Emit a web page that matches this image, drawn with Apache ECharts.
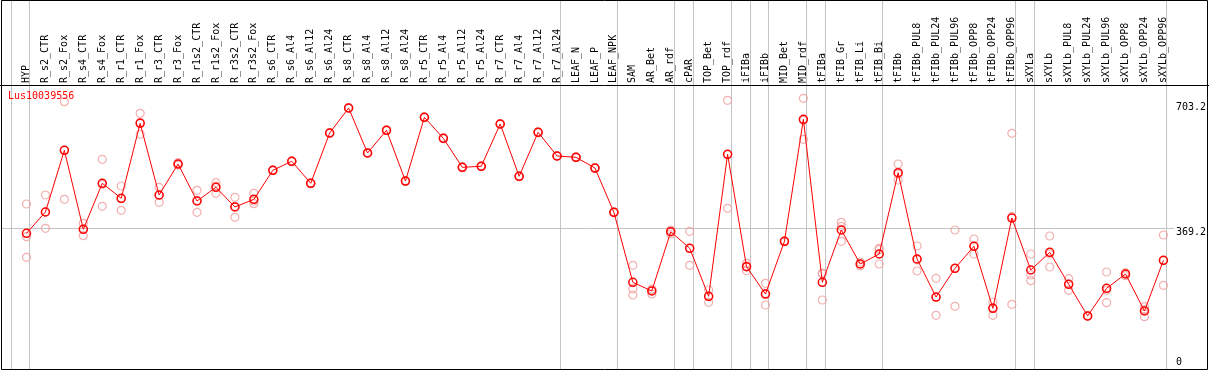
<!DOCTYPE html>
<html>
<head>
<meta charset="utf-8">
<script src="https://cdn.jsdelivr.net/npm/echarts@6/dist/echarts.min.js"></script>
<style>html,body{margin:0;padding:0;background:#fff;}#c{width:1209px;height:370px;}</style>
</head>
<body>
<div id="c"></div>
<script>
const geneName = 'Lus10039556';
const categories = ['HYP','R_s2_CTR','R_s2_Fox','R_s4_CTR','R_s4_Fox','R_r1_CTR','R_r1_Fox','R_r3_CTR','R_r3_Fox','R_r1s2_CTR','R_r1s2_Fox','R_r3s2_CTR','R_r3s2_Fox','R_s6_CTR','R_s6_Al4','R_s6_Al12','R_s6_Al24','R_s8_CTR','R_s8_Al4','R_s8_Al12','R_s8_Al24','R_r5_CTR','R_r5_Al4','R_r5_Al12','R_r5_Al24','R_r7_CTR','R_r7_Al4','R_r7_Al12','R_r7_Al24','LEAF_N','LEAF_P','LEAF_NPK','SAM','AR_Bet','AR_rdf','cPAR','TOP_Bet','TOP_rdf','iFIBa','iFIBb','MID_Bet','MID_rdf','tFIBa','tFIB_Gr','tFIB_Li','tFIB_Bi','tFIBb','tFIBb_PUL8','tFIBb_PUL24','tFIBb_PUL96','tFIBb_OPP8','tFIBb_OPP24','tFIBb_OPP96','sXYLa','sXYLb','sXYLb_PUL8','sXYLb_PUL24','sXYLb_PUL96','sXYLb_OPP8','sXYLb_OPP24','sXYLb_OPP96'];
const meanValues = [355.9,412.6,576.9,366.6,489.0,449.1,648.7,457.9,540.4,441.9,478.4,425.9,446.4,523.6,547.6,489.0,622.9,689.5,569.7,630.1,495.1,664.7,608.8,531.6,534.3,646.9,507.6,624.8,561.7,558.2,529.7,411.8,225.5,202.3,360.2,316.0,188.2,566.2,267.0,194.3,334.6,659.4,225.5,364.7,274.2,300.8,517.2,287.5,186.3,262.7,321.3,156.3,396.6,258.2,305.3,220.1,135.8,209.5,247.6,149.1,284.0];
const rep1 = [433.9,457.9,706.2,382.5,552.9,481.8,675.3,478.4,543.8,470.4,490.6,451.7,462.4,524.6,548.6,490.0,623.9,690.5,570.7,631.1,496.1,665.7,609.8,532.6,535.3,647.9,508.6,625.8,562.7,559.2,530.7,412.8,270.7,207.6,364.7,361.2,205.0,709.9,276.0,222.8,335.6,715.3,249.4,385.2,279.5,316.0,540.4,322.1,236.1,364.7,340.7,173.0,622.1,300.8,348.7,235.1,136.8,252.9,243.0,160.5,351.4];
const rep2 = [346.9,369.2,446.4,349.5,427.8,417.1,619.4,438.4,537.7,411.8,462.4,398.5,434.7,522.6,546.6,488.0,621.9,688.5,568.7,629.1,494.1,663.7,607.8,530.6,533.3,645.9,506.6,623.8,560.7,557.2,528.7,410.8,208.4,194.3,354.0,270.7,172.2,422.5,256.3,165.0,333.6,606.1,178.4,334.6,268.9,274.2,497.8,255.6,137.6,161.6,300.8,137.6,166.9,229.7,266.2,204.2,134.8,171.2,251.0,133.9,217.5];
const rep3 = [292.0,412.6,577.7,367.4,486.4,448.0,651.4,457.1,539.6,443.7,481.8,427.8,441.9,523.6,547.6,489.0,622.9,689.5,569.7,630.1,495.1,664.7,608.8,531.6,534.3,646.9,507.6,624.8,561.7,558.2,529.7,411.8,191.7,205.0,362.0,316.0,187.1,566.2,268.9,195.1,334.6,656.7,248.4,374.5,274.2,312.3,513.8,284.8,185.5,261.7,322.1,157.9,400.9,244.9,300.8,220.9,135.8,204.2,247.6,152.5,283.0];
const yTickValues = [0, 369.2, 703.2];
const referenceValue = 369.2;
// group separators are drawn after these samples
const groupEnds = ['HYP','R_r7_Al24','LEAF_NPK','AR_rdf','cPAR','TOP_rdf','iFIBa','iFIBb','MID_rdf','tFIBa','tFIB_Bi','tFIBb_OPP96','sXYLa','sXYLb_OPP96'];

const sepIdx = [-1].concat(groupEnds.map(n => categories.indexOf(n)));
const FONT = 'DejaVu Sans Mono';
const GRAY = '#c4c4c4';

const chart = echarts.init(document.getElementById('c'), null, {renderer: 'canvas'});
const repSeries = [rep1, rep2, rep3].map((arr, k) => ({
  type: 'scatter', name: 'rep' + (k + 1), data: arr,
  symbol: 'circle', symbolSize: 8,
  itemStyle: {color: 'rgba(0,0,0,0)', borderColor: '#ef9c9c', borderWidth: 1.2},
  z: 3, silent: true
}));

chart.setOption({
  animation: false,
  title: {text: geneName, left: 8, top: 91, padding: 0,
    textStyle: {color: '#ff0000', fontFamily: FONT, fontSize: 10, fontWeight: 'normal'}},
  grid: {left: 17, right: 33, top: 85, bottom: 1, containLabel: false},
  xAxis: {
    type: 'category', data: categories, position: 'top', boundaryGap: true,
    axisLine: {show: false}, axisTick: {show: false}, splitLine: {show: false},
    axisLabel: {rotate: 90, interval: 0, margin: 2, color: '#000', fontFamily: FONT, fontSize: 10}
  },
  yAxis: {
    type: 'value', position: 'right', min: -5.3, max: 750.7,
    axisLine: {show: false}, axisTick: {show: false}, splitLine: {show: false},
    axisLabel: {
      customValues: yTickValues, margin: 3, color: '#000', fontFamily: FONT, fontSize: 10,
      formatter: v => v === 0 ? '{b|0}' : '{t|' + v + '}',
      rich: {
        t: {padding: [9, 0, 0, 0], fontFamily: FONT, fontSize: 10, color: '#000'},
        b: {padding: [0, 0, 9, 0], fontFamily: FONT, fontSize: 10, color: '#000'}
      }
    }
  },
  graphic: [
    {type: 'line', shape: {x1: 0, y1: 85.5, x2: 1209, y2: 85.5}, style: {stroke: '#000', lineWidth: 1}, z: 10},
    {type: 'rect', shape: {x: 1.5, y: 0.5, width: 1206, height: 369}, style: {fill: null, stroke: '#000', lineWidth: 1}, z: 10}
  ],
  series: [
    {
      type: 'custom', name: 'separators', data: sepIdx.map(i => [i, 0]), silent: true, z: 1, clip: false,
      encode: {x: 0, y: 1},
      renderItem: (params, api) => {
        const cs = params.coordSys;
        const x = Math.round(api.coord([api.value(0), 0])[0] + 4) - 0.5;
        return {type: 'line', shape: {x1: x, y1: 0, x2: x, y2: cs.y + cs.height},
          style: {stroke: GRAY, lineWidth: 1}};
      }
    },
    {
      type: 'custom', name: 'reference', data: [[0, referenceValue]], silent: true, z: 1, clip: false,
      encode: {x: 0, y: 1},
      renderItem: (params, api) => {
        const cs = params.coordSys;
        const y = Math.round(api.coord([0, api.value(1)])[1]) + 0.5;
        return {type: 'line', shape: {x1: 1, y1: y, x2: cs.x + cs.width + 1, y2: y},
          style: {stroke: GRAY, lineWidth: 1}};
      }
    },
    ...repSeries,
    {
      type: 'line', name: 'mean', data: meanValues,
      symbol: 'circle', symbolSize: 8, showAllSymbol: true,
      lineStyle: {color: '#ff0000', width: 1},
      itemStyle: {color: 'rgba(0,0,0,0)', borderColor: '#ff0000', borderWidth: 1.5},
      z: 5, silent: true
    }
  ]
});
</script>
</body>
</html>
